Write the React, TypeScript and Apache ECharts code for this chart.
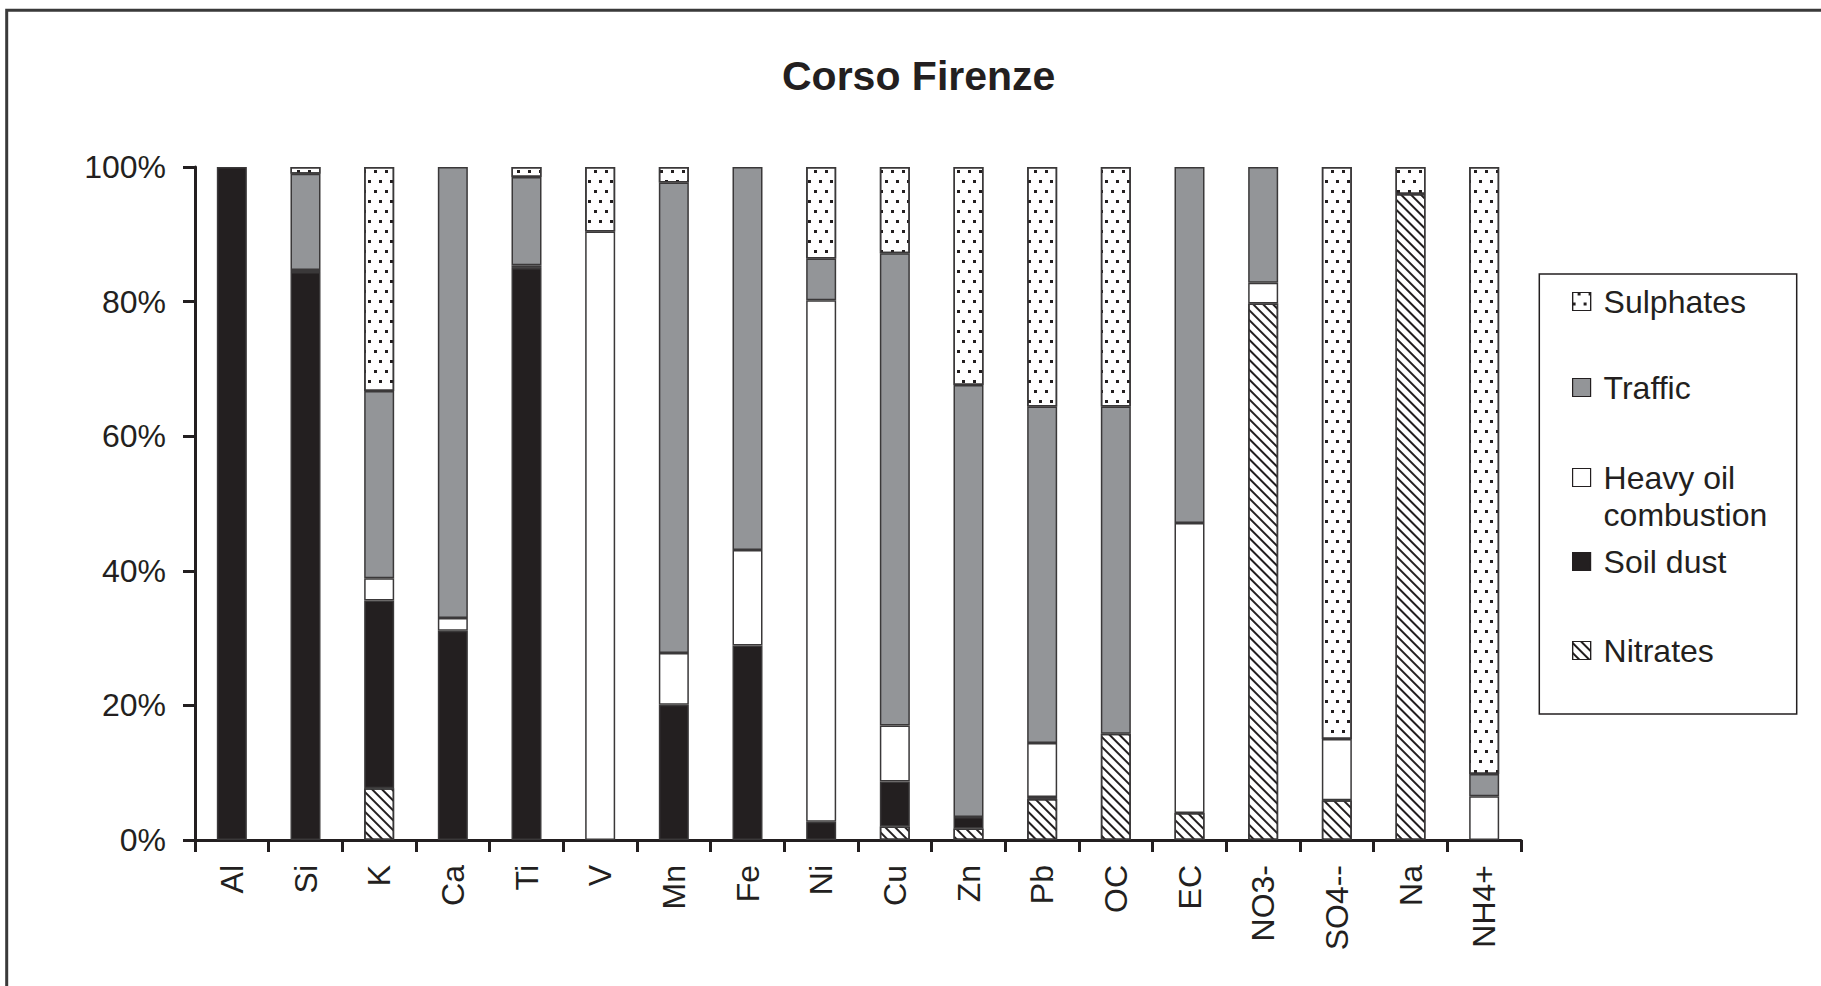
import React, { useEffect, useRef } from 'react';
import * as echarts from 'echarts';

const categories = ['Al', 'Si', 'K', 'Ca', 'Ti', 'V', 'Mn', 'Fe', 'Ni', 'Cu', 'Zn', 'Pb', 'OC', 'EC', 'NO3-', 'SO4--', 'Na', 'NH4+'];
const nitrates = [0, 0, 7.7, 0, 0, 0, 0, 0, 0, 2.0, 1.7, 6.1, 15.8, 4.0, 79.7, 5.9, 96.0, 0];
const soilDust = [100, 84.4, 27.9, 31.1, 85.0, 0, 20.1, 28.9, 2.7, 6.7, 1.7, 0.3, 0, 0, 0, 0, 0, 0];
const heavyOil = [0, 0.3, 3.3, 1.9, 0.4, 90.4, 7.7, 14.2, 77.5, 8.3, 0, 8.0, 0, 43.1, 3.1, 9.1, 0, 6.5];
const traffic = [0, 14.3, 27.8, 67.0, 13.1, 0, 69.9, 56.9, 6.2, 70.2, 64.2, 50.0, 48.6, 52.9, 17.2, 0, 0, 3.3];
const sulphates = [0, 1.0, 33.3, 0, 1.5, 9.6, 2.3, 0, 13.6, 12.8, 32.4, 35.6, 35.6, 0, 0, 85.0, 4.0, 90.2];

const TITLE = 'Corso Firenze';
const INK = '#231f20';
const FONT = "'Liberation Sans', Arial, Helvetica, sans-serif";

const toData = (arr: number[]) => arr.map((v) => (v === 0 ? '-' : v));

function measure(text: string, font: string): number {
  const c = document.createElement('canvas');
  const ctx = c.getContext('2d');
  if (!ctx) return 0;
  ctx.font = font;
  return ctx.measureText(text).width;
}

export default function App() {
  const ref = useRef<HTMLDivElement>(null);

  useEffect(() => {
    if (!ref.current) return;
    const chart = echarts.init(ref.current, null, { renderer: 'svg' });

    const border = '#3a3839';
    const seriesDefs = [
      {
        name: 'Nitrates',
        data: nitrates,
        itemStyle: {
          color: '#ffffff',
          decal: {
            symbol: 'rect',
            symbolSize: 1,
            color: INK,
            dashArrayX: [1, 0],
            dashArrayY: [2, 4.8],
            rotation: Math.PI / 4,
          },
        },
      },
      { name: 'Soil dust', data: soilDust, itemStyle: { color: INK } },
      { name: 'Heavy oil combustion', data: heavyOil, itemStyle: { color: '#ffffff' } },
      { name: 'Traffic', data: traffic, itemStyle: { color: '#939598' } },
      {
        name: 'Sulphates',
        data: sulphates,
        itemStyle: {
          color: '#ffffff',
          decal: {
            symbol: 'rect',
            symbolSize: 1,
            color: INK,
            dashArrayX: [[2.6, 7.4], [0, 5, 2.6, 2.4]],
            dashArrayY: [2.6, 6.4],
            rotation: 0,
          },
        },
      },
    ];

    const legendPos = [
      { name: 'Sulphates', top: 283 },
      { name: 'Traffic', top: 369 },
      { name: 'Heavy oil combustion', top: 422 },
      { name: 'Soil dust', top: 543 },
      { name: 'Nitrates', top: 632 },
    ];

    const titleFontSize = 41;
    const titleW = measure(TITLE, `bold ${titleFontSize}px 'Liberation Sans', Arial, sans-serif`) || 270;

    const option: any = {
      animation: false,
      backgroundColor: '#ffffff',
      title: {
        text: TITLE,
        left: Math.round(919 - titleW / 2),
        top: 55,
        padding: 0,
        textStyle: { fontSize: titleFontSize, fontWeight: 'bold', color: INK, fontFamily: FONT },
      },
      legend: legendPos.map((l) => ({
        data: [l.name],
        orient: 'vertical',
        left: 1572,
        top: l.top,
        padding: 0,
        itemWidth: 18,
        itemHeight: 18,
        icon: 'rect',
        selectedMode: false,
        itemStyle: { borderWidth: 1.2, borderColor: INK },
        formatter: (name: string) => (name === 'Heavy oil combustion' ? '\nHeavy oil\ncombustion' : name),
        textStyle: {
          fontSize: 32,
          color: INK,
          fontFamily: FONT,
          lineHeight: 37,
          padding: [0, 0, 0, 8],
        },
      })),
      grid: { left: 195, right: 300, top: 167, bottom: 146, containLabel: false, outerBoundsMode: 'none' },
      xAxis: {
        type: 'category',
        data: categories,
        axisLine: { show: true, lineStyle: { color: INK, width: 3 } },
        axisTick: { show: true, length: 12, lineStyle: { color: INK, width: 3 } },
        axisLabel: { interval: 0, rotate: 90, margin: 25, fontSize: 32, color: INK, fontFamily: FONT },
        splitLine: { show: false },
      },
      yAxis: {
        type: 'value',
        min: 0,
        max: 100,
        interval: 20,
        axisLine: { show: true, lineStyle: { color: INK, width: 3 } },
        axisTick: { show: true, length: 12, lineStyle: { color: INK, width: 3 } },
        axisLabel: { formatter: '{value}%', margin: 29, fontSize: 32, color: INK, fontFamily: FONT },
        splitLine: { show: false },
      },
      series: seriesDefs.map((s) => ({
        type: 'bar',
        name: s.name,
        stack: 'total',
        barWidth: 30,
        data: toData(s.data),
        itemStyle: { ...s.itemStyle, borderColor: border, borderWidth: 1.5 },
        emphasis: { disabled: true },
      })),
      graphic: [
        {
          type: 'polyline',
          shape: { points: [[6.7, 986], [6.7, 10.3], [1821, 10.3]] },
          style: { stroke: '#3a3a3a', lineWidth: 3, fill: 'none' },
          silent: true,
        },
        {
          type: 'rect',
          shape: { x: 1539.3, y: 274, width: 257.4, height: 440 },
          style: { stroke: INK, lineWidth: 1.5, fill: 'none' },
          silent: true,
        },
      ],
    };

    chart.setOption(option);
    return () => chart.dispose();
  }, []);

  return (
    <div
      ref={ref}
      style={{ position: 'fixed', left: 0, top: 0, width: 1821, height: 986, background: '#ffffff' }}
    />
  );
}
